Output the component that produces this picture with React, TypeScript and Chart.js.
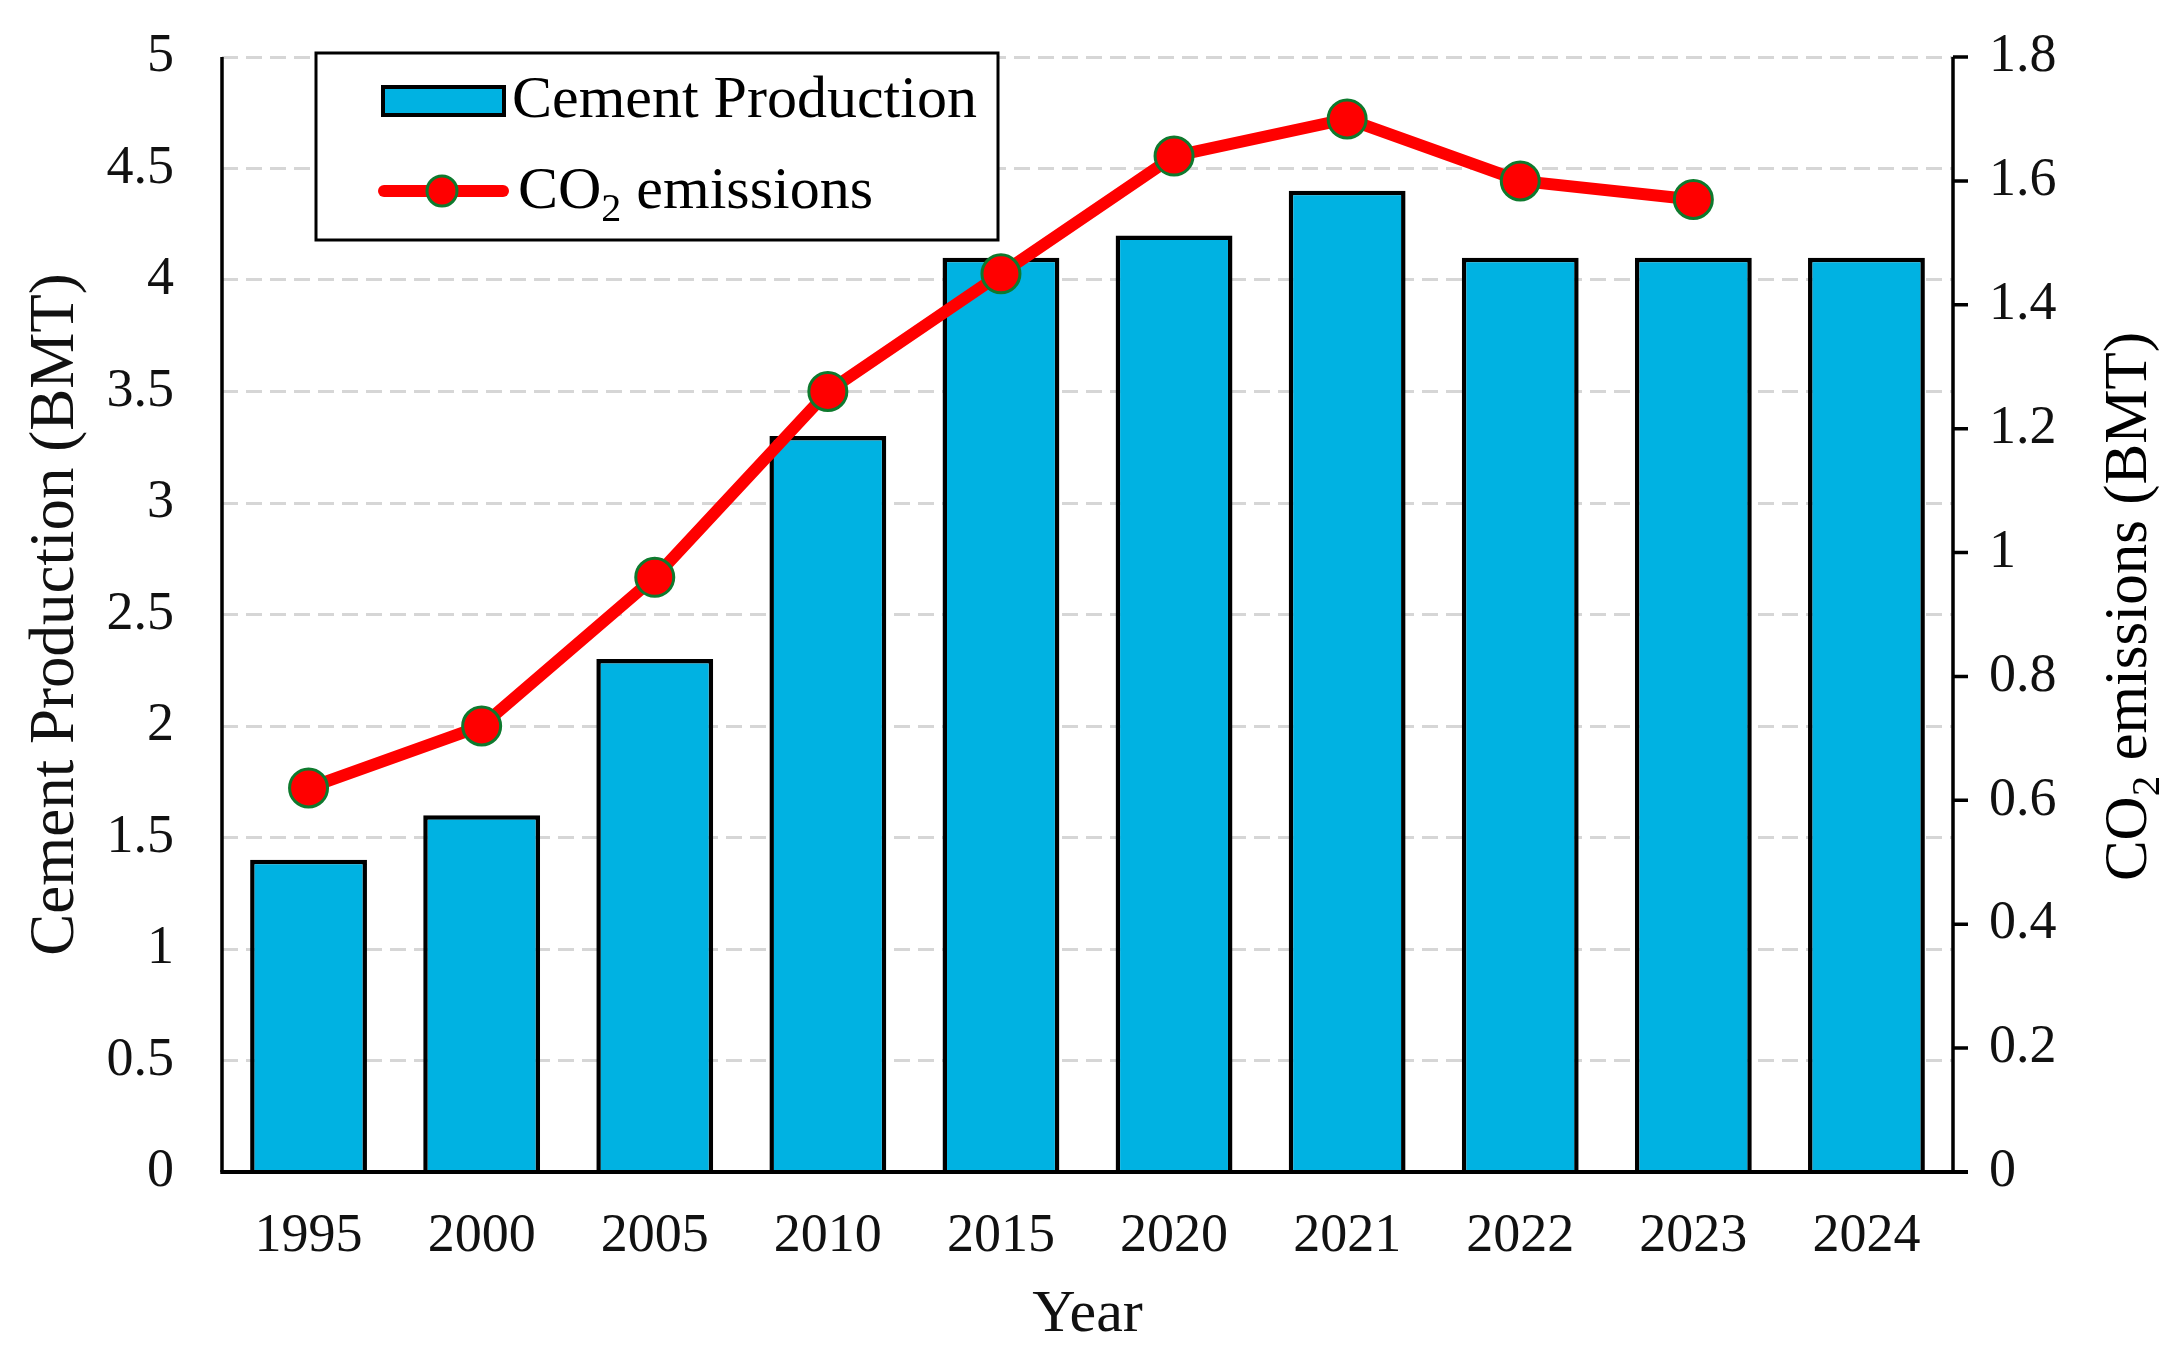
import React, { useEffect, useRef } from 'react';
import { Chart, registerables } from 'chart.js';

Chart.register(...registerables);

// ---- data ----
const years = ['1995', '2000', '2005', '2010', '2015', '2020', '2021', '2022', '2023', '2024'];
const cementProduction = [1.4, 1.6, 2.3, 3.3, 4.1, 4.2, 4.4, 4.1, 4.1, 4.1];
const co2Emissions = [0.62, 0.72, 0.96, 1.26, 1.45, 1.64, 1.7, 1.6, 1.57, null];
const leftAxisRange = [0, 5];
const leftAxisStep = 0.5;
const rightAxisRange = [0, 1.8];
const rightAxisStep = 0.2;
const seriesNames = ['Cement Production', 'CO2 emissions'];
const axisTitles = ['Year', 'Cement Production (BMT)', 'CO2 emissions (BMT)'];

const FONT = '"Liberation Serif", "Times New Roman", serif';
const BAR_COLOR = '#00B2E2';
const LINE_COLOR = '#FF0000';
const MARKER_BORDER = '#0E7A2E';

const fmt = (v: any) => String(Math.round(Number(v) * 10) / 10);

function drawCO2(ctx: CanvasRenderingContext2D, x: number, baseline: number, rest: string, size: number, sub: number) {
  ctx.font = `${size}px ${FONT}`;
  ctx.fillText('CO', x, baseline);
  x += ctx.measureText('CO').width;
  ctx.font = `${sub}px ${FONT}`;
  ctx.fillText('2', x, baseline + size * 0.22);
  x += ctx.measureText('2').width;
  ctx.font = `${size}px ${FONT}`;
  ctx.fillText(rest, x, baseline);
}

function co2Width(ctx: CanvasRenderingContext2D, rest: string, size: number, sub: number) {
  ctx.font = `${size}px ${FONT}`;
  let w = ctx.measureText('CO').width + ctx.measureText(rest).width;
  ctx.font = `${sub}px ${FONT}`;
  w += ctx.measureText('2').width;
  return w;
}

const overlayPlugin = {
  id: 'overlay',
  afterDatasetsDraw(chart: any) {
    const { ctx, chartArea: a } = chart;
    ctx.save();
    ctx.strokeStyle = '#000';
    ctx.lineWidth = 3.5;
    ctx.beginPath();
    ctx.moveTo(a.left, a.top);
    ctx.lineTo(a.left, a.bottom);
    ctx.moveTo(a.right, a.top);
    ctx.lineTo(a.right, a.bottom);
    ctx.stroke();
    // right axis tick marks (outside)
    const y1 = chart.scales.y1;
    ctx.beginPath();
    for (const t of y1.ticks) {
      const py = y1.getPixelForValue(t.value);
      ctx.moveTo(a.right, py);
      ctx.lineTo(a.right + 15, py);
    }
    ctx.stroke();
    ctx.lineWidth = 4;
    ctx.beginPath();
    ctx.moveTo(a.left - 1.75, a.bottom);
    ctx.lineTo(a.right + 15, a.bottom);
    ctx.stroke();
    ctx.restore();
  },
  afterDraw(chart: any) {
    const { ctx, chartArea: a } = chart;
    ctx.save();
    // legend box
    const bx = a.left + 94;
    const by = a.top - 4;
    const bw = 682;
    const bh = 187;
    ctx.fillStyle = '#fff';
    ctx.fillRect(bx, by, bw, bh);
    ctx.strokeStyle = '#000';
    ctx.lineWidth = 3;
    ctx.strokeRect(bx, by, bw, bh);

    // bar swatch
    ctx.fillStyle = BAR_COLOR;
    ctx.fillRect(bx + 67, by + 34, 121, 28);
    ctx.lineWidth = 4;
    ctx.strokeRect(bx + 67, by + 34, 121, 28);
    ctx.fillStyle = '#000';
    ctx.textBaseline = 'alphabetic';
    ctx.textAlign = 'left';
    ctx.font = `60px ${FONT}`;
    ctx.fillText(seriesNames[0], bx + 196, by + 64);

    // line swatch
    const ly = by + 138;
    ctx.strokeStyle = LINE_COLOR;
    ctx.lineWidth = 12;
    ctx.lineCap = 'round';
    ctx.beginPath();
    ctx.moveTo(bx + 68, ly);
    ctx.lineTo(bx + 187, ly);
    ctx.stroke();
    ctx.beginPath();
    ctx.arc(bx + 126, ly, 15, 0, Math.PI * 2);
    ctx.fillStyle = LINE_COLOR;
    ctx.fill();
    ctx.lineWidth = 3;
    ctx.strokeStyle = MARKER_BORDER;
    ctx.stroke();
    ctx.fillStyle = '#000';
    drawCO2(ctx, bx + 202, ly + 17, ' emissions', 60, 40);

    // right axis title
    ctx.translate(a.right + 173, (a.top + a.bottom) / 2 - 8);
    ctx.rotate(-Math.PI / 2);
    const rest = ' emissions (BMT)';
    const w = co2Width(ctx, rest, 61, 41);
    ctx.fillStyle = '#000';
    drawCO2(ctx, -w / 2, 20, rest, 61, 41);
    ctx.restore();
  },
};

export default function App() {
  const canvasRef = useRef<HTMLCanvasElement | null>(null);

  useEffect(() => {
    document.body.style.margin = '0';
    const canvas = canvasRef.current;
    if (!canvas) return;
    const tickFont = { family: FONT, size: 54 };
    const chart = new Chart(canvas, {
      data: {
        labels: years,
        datasets: [
          {
            type: 'line',
            label: seriesNames[1],
            data: co2Emissions,
            yAxisID: 'y1',
            borderColor: LINE_COLOR,
            borderWidth: 12,
            pointRadius: 19,
            pointBackgroundColor: LINE_COLOR,
            pointBorderColor: MARKER_BORDER,
            pointBorderWidth: 3,
            tension: 0,
            spanGaps: false,
            order: 0,
          } as any,
          {
            type: 'bar',
            label: seriesNames[0],
            data: cementProduction,
            yAxisID: 'y',
            backgroundColor: BAR_COLOR,
            borderColor: '#000',
            borderWidth: 4.5,
            barPercentage: 0.675,
            categoryPercentage: 1,
            order: 1,
          } as any,
        ],
      },
      options: {
        animation: false,
        responsive: true,
        maintainAspectRatio: false,
        layout: { padding: { top: 57, left: 0, right: 0, bottom: 0 } },
        plugins: {
          legend: { display: false },
          tooltip: { enabled: false },
          title: { display: false },
        },
        scales: {
          x: {
            type: 'category',
            offset: true,
            grid: { display: false, drawTicks: false },
            border: { display: false },
            ticks: { font: tickFont, color: '#111', padding: 32, maxRotation: 0, autoSkip: false },
            title: {
              display: true,
              text: axisTitles[0],
              font: { family: FONT, size: 60 },
              color: '#111',
              padding: { top: 0, bottom: 9 },
            },
            afterFit: (s: any) => {
              s.height = 188;
            },
          },
          y: {
            type: 'linear',
            position: 'left',
            min: leftAxisRange[0],
            max: leftAxisRange[1],
            ticks: { stepSize: leftAxisStep, padding: 0, font: tickFont, color: '#111', callback: fmt },
            grid: {
              color: '#D6D6D6',
              lineWidth: 3,
              drawTicks: true,
              tickLength: 48,
              tickColor: 'rgba(0,0,0,0)',
            },
            border: { display: false, dash: [16, 8] },
            title: {
              display: true,
              text: axisTitles[1],
              font: { family: FONT, size: 63 },
              color: '#111',
              padding: { top: 19, bottom: 0 },
            },
            afterFit: (s: any) => {
              s.width = 222;
            },
          },
          y1: {
            type: 'linear',
            position: 'right',
            min: rightAxisRange[0],
            max: rightAxisRange[1],
            ticks: { stepSize: rightAxisStep, padding: 0, font: tickFont, color: '#111', callback: fmt },
            grid: {
              drawOnChartArea: false,
              drawTicks: true,
              tickLength: 36,
              tickColor: 'rgba(0,0,0,0)',
            },
            border: { display: false },
            afterFit: (s: any) => {
              s.width = 223;
            },
          },
        },
      } as any,
      plugins: [overlayPlugin],
    });
    return () => chart.destroy();
  }, []);

  return (
    <div style={{ width: 2176, height: 1360, position: 'relative', background: '#fff' }}>
      <canvas ref={canvasRef} />
    </div>
  );
}
